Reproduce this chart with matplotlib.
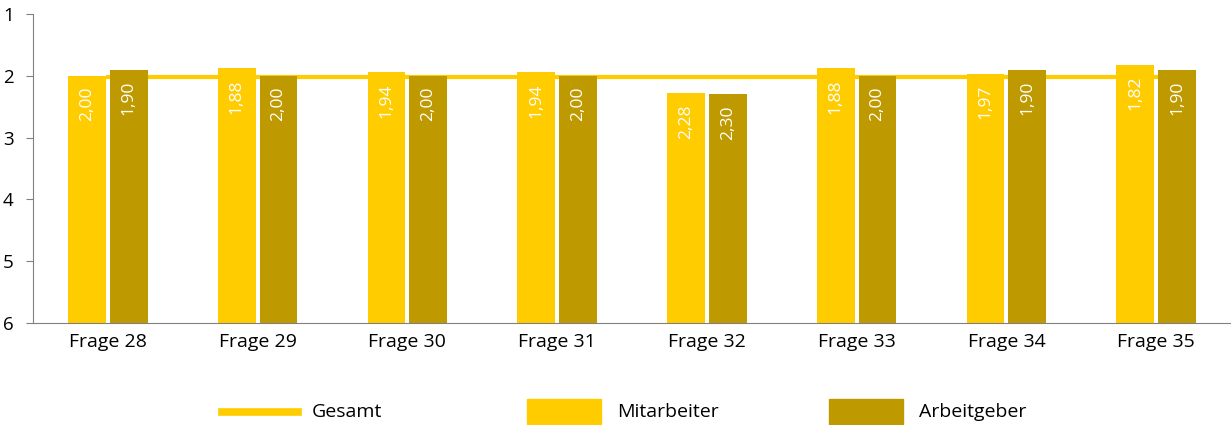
import matplotlib
matplotlib.use("Agg")
import matplotlib.pyplot as plt
import numpy as np
from matplotlib.patches import Rectangle
from matplotlib.lines import Line2D

categories = ["Frage 28", "Frage 29", "Frage 30", "Frage 31", "Frage 32", "Frage 33", "Frage 34", "Frage 35"]
mitarbeiter = [2.00, 1.88, 1.94, 1.94, 2.28, 1.88, 1.97, 1.82]
arbeitgeber = [1.90, 2.00, 2.00, 2.00, 2.30, 2.00, 1.90, 1.90]
gesamt = [2.02, 2.02, 2.02, 2.02, 2.02, 2.02, 2.02, 2.02]
yticks = [1, 2, 3, 4, 5, 6]
legend_labels = ["Gesamt", "Mitarbeiter", "Arbeitgeber"]

c_mit = "#FFCC00"
c_arb = "#BE9A00"

plt.rcParams['font.family'] = ['Open Sans', 'DejaVu Sans']

W, H = 1231, 425
fig = plt.figure(figsize=(W / 100, H / 100), dpi=100)
ax = fig.add_axes([33/W, 1 - 323/H, (W-33)/W, (323-14)/H])

x = np.arange(len(categories))
w = 0.252
off = 0.14
ax.plot(x, gesamt, color=c_mit, lw=3, zorder=1)
ax.bar(x - off, np.array(mitarbeiter) - 6, bottom=6, width=w, color=c_mit, zorder=2)
ax.bar(x + off, np.array(arbeitgeber) - 6, bottom=6, width=w, color=c_arb, zorder=2)

def fmt(v):
    return f"{v:.2f}".replace(".", ",")

for xs, vals in ((x - off, mitarbeiter), (x + off, arbeitgeber)):
    for xi, v in zip(xs, vals):
        ax.annotate(fmt(v), (xi, v), xytext=(0, -8), textcoords="offset points",
                    rotation=90, ha="center", va="top", color="white", fontsize=12.5, zorder=3)

ax.set_xlim(-0.5, len(categories) - 0.5)
ax.set_ylim(6, 1)
ax.set_yticks(yticks)
ax.set_yticklabels([str(t) for t in yticks], fontsize=13.5)
ax.set_xticks(x)
ax.set_xticklabels(categories, fontsize=14)
ax.tick_params(axis="x", length=0, pad=7)
ax.tick_params(axis="y", length=5, color="#808080", pad=9)
for s in ["top", "right"]:
    ax.spines[s].set_visible(False)
ax.spines["left"].set_color("#808080")
ax.spines["bottom"].set_color("#808080")

# manual legend
ly = 1 - 412/H
starts = [222, 527, 829]
for i, (lbl, xs) in enumerate(zip(legend_labels, starts)):
    if i == 0:
        fig.add_artist(Line2D([xs/W, (xs+76)/W], [ly, ly], color=c_mit, lw=5.5))
    else:
        col = c_mit if i == 1 else c_arb
        fig.add_artist(Rectangle((xs/W, 1 - 424/H), 74/W, 25/H, color=col,
                                 transform=fig.transFigure))
    fig.text((xs + 90)/W, ly, lbl, fontsize=14, va="center", ha="left")

fig.savefig("out.png", dpi=100)
